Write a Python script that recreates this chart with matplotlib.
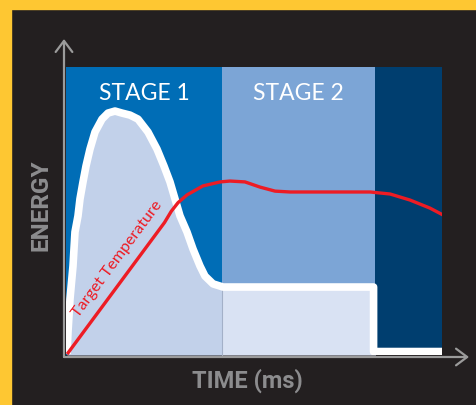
import matplotlib
matplotlib.use("Agg")
import matplotlib.pyplot as plt
from matplotlib.patches import Rectangle

# ── 数据（时间 0–100，能量 0–100） ──────────────────────────────
stage_edges  = [0, 41.5, 82.2, 100]
stage_colors = ["#006db6", "#7ca5d6", "#003e6f"]
stage_labels = ["STAGE 1", "STAGE 2", ""]
fill_colors  = ["#c2d1ea", "#d9e2f3"]

energy_t = [0.27, 0.53, 1.06, 1.86, 2.39, 3.19, 3.72, 4.52, 5.32, 6.38, 7.71, 9.57,
            11.17, 13.03, 14.89, 17.02, 19.15, 21.81, 24.20, 26.06, 27.66, 28.99,
            30.32, 32.18, 33.78, 35.64, 36.97, 39.10, 41.76, 81.8, 81.8, 100.0]
energy_v = [0.35, 7.99, 19.4, 30.9, 42.7, 48.3, 54.2, 60.1, 65.6, 71.5, 77.4, 81.9,
            84.0, 84.7, 84.0, 83.3, 81.9, 77.4, 71.5, 65.6, 60.1, 54.2,
            48.3, 42.7, 36.8, 30.9, 27.4, 24.7, 23.6, 23.6, 1.2, 1.2]

temp_t = [0.3, 26.2, 28.0, 29.8, 32.2, 36.4, 41.0, 43.6, 47.6, 51.6, 55.6, 59.6,
          80.9, 86.2, 91.5, 96.8, 100.3]
temp_v = [0.3, 46.0, 49.9, 52.9, 55.6, 58.7, 60.1, 60.4, 60.1, 58.3, 56.9, 56.6,
          56.6, 55.9, 53.8, 51.0, 48.6]

BG     = "#231f20"
YELLOW = "#fec732"
GREY   = "#8c8c8e"
RED    = "#ed1c24"

plt.rcParams["font.family"] = ["Lato", "DejaVu Sans"]

W, H = 476, 406
fig = plt.figure(figsize=(W / 100, H / 100), dpi=100, facecolor=BG)

# 黄色边框（左、上）
fig.patches.append(Rectangle((0, 0), 11 / W, 1, transform=fig.transFigure,
                             color=YELLOW, zorder=0))
fig.patches.append(Rectangle((0, 1 - 10 / H), 1, 10 / H, transform=fig.transFigure,
                             color=YELLOW, zorder=0))

ax = fig.add_axes([66 / W, 50 / H, 376 / W, 288 / H])
ax.set_xlim(0, 100)
ax.set_ylim(0, 100)
ax.set_axis_off()

# 各阶段背景
for i in range(3):
    ax.axvspan(stage_edges[i], stage_edges[i + 1], color=stage_colors[i], lw=0, zorder=0)
    if stage_labels[i]:
        ax.text((stage_edges[i] + stage_edges[i + 1]) / 2, 91, stage_labels[i],
                color="white", fontsize=16.5, ha="center", va="center", zorder=5)

# 能量曲线下方填充（按阶段裁剪）
for i in range(2):
    poly = ax.fill_between(energy_t, energy_v, 0, color=fill_colors[i], lw=0, zorder=1)
    clip = Rectangle((stage_edges[i], 0), stage_edges[i + 1] - stage_edges[i], 100,
                     transform=ax.transData)
    poly.set_clip_path(clip)
ax.plot([stage_edges[1], stage_edges[1]], [0, 23.6], color="#a3b0c8", lw=0.8, zorder=1.5)

ax.plot(energy_t, energy_v, color="white", lw=5.5, solid_joinstyle="round",
        solid_capstyle="butt", zorder=3)
ax.plot(temp_t, temp_v, color=RED, lw=2.4, solid_joinstyle="round",
        solid_capstyle="butt", zorder=4)

ax.text(13.6, 33.8, "Target Temperature", color=RED, fontsize=11.5,
        rotation=53.5, rotation_mode="anchor", ha="center", va="center", zorder=5)

# 坐标轴箭头
arrow = dict(arrowstyle="->,head_length=0.8,head_width=0.6", color="#9b9b9b", lw=1.6,
             shrinkA=0, shrinkB=0)
fig.add_artist(plt.Annotation("", xy=(64, H - 40), xytext=(64, H - 358),
                              xycoords="figure pixels", textcoords="figure pixels",
                              arrowprops=arrow))
fig.add_artist(plt.Annotation("", xy=(469, H - 358), xytext=(64, H - 358),
                              xycoords="figure pixels", textcoords="figure pixels",
                              arrowprops=arrow))

fig.text(41 / W, 1 - 205 / H, "ENERGY", color=GREY, fontsize=17.5, fontweight="bold",
         family=["Roboto", "DejaVu Sans"], rotation=90, ha="center", va="center")
fig.text(247 / W, 1 - 381 / H, "TIME (ms)", color=GREY, fontsize=17, fontweight="bold",
         family=["Roboto", "DejaVu Sans"], ha="center", va="center")

fig.savefig("out.png", dpi=100, facecolor=BG)
